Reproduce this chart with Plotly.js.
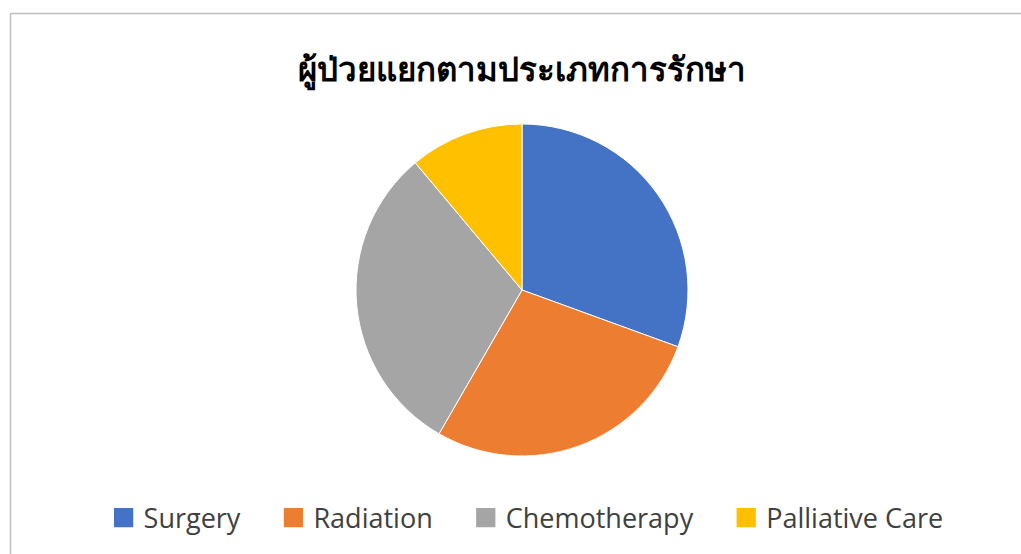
<!DOCTYPE html>
<html>
<head>
<meta charset="utf-8">
<script src="https://cdn.plot.ly/plotly-3.0.1.min.js"></script>
<style>
html,body{margin:0;padding:0;background:#fff;}
#chart{width:1021px;height:554px;}
</style>
</head>
<body>
<div id="chart"></div>
<script>
const categories = ["Surgery", "Radiation", "Chemotherapy", "Palliative Care"];
const values = [110, 100, 110, 40];
const colors = ["#4472C4", "#ED7D31", "#A5A5A5", "#FFC000"];
const titleText = "ผู้ป่วยแยกตามประเภทการรักษา";

const W = 1021, H = 554;
const cx = 522, cy = 290, r = 166;
const pad = "\u00a0\u00a0\u00a0\u00a0";

const data = [{
  type: "pie",
  labels: categories.map(function (c) { return c + pad; }),
  values: values,
  sort: false,
  direction: "clockwise",
  rotation: 0,
  textinfo: "none",
  hoverinfo: "label+value+percent",
  marker: {colors: colors, line: {color: "#ffffff", width: 1}},
  domain: {x: [(cx - r) / W, (cx + r) / W], y: [(H - cy - r) / H, (H - cy + r) / H]}
}];

const layout = {
  width: W, height: H,
  margin: {l: 0, r: 0, t: 0, b: 0},
  paper_bgcolor: "#ffffff",
  title: {
    text: "<b>" + titleText + "</b>",
    x: 0.511, xanchor: "center",
    y: 1 - 69 / H, yanchor: "middle",
    font: {family: "Noto Sans, sans-serif", size: 33, color: "#000000"}
  },
  showlegend: true,
  legend: {
    orientation: "h",
    x: 0.529, xanchor: "center",
    y: (H - 518) / H, yanchor: "middle",
    font: {family: "Open Sans, Noto Sans, sans-serif", size: 27, color: "#404040"},
    traceorder: "normal"
  },
  shapes: [
    {type: "line", xref: "paper", yref: "paper", x0: 10.5 / W, x1: 1, y0: 1 - 13.5 / H, y1: 1 - 13.5 / H, line: {color: "#bfbfbf", width: 1.5}},
    {type: "line", xref: "paper", yref: "paper", x0: 10.5 / W, x1: 10.5 / W, y0: 0, y1: 1 - 13.5 / H, line: {color: "#bfbfbf", width: 1.5}}
  ]
};

Plotly.newPlot("chart", data, layout, {displayModeBar: false, staticPlot: true}).then(function () {
  document.querySelectorAll(".legendpoints path").forEach(function (p) {
    var t = p.getAttribute("transform") || "";
    p.setAttribute("transform", t + " scale(1.75)");
  });
});
</script>
</body>
</html>
